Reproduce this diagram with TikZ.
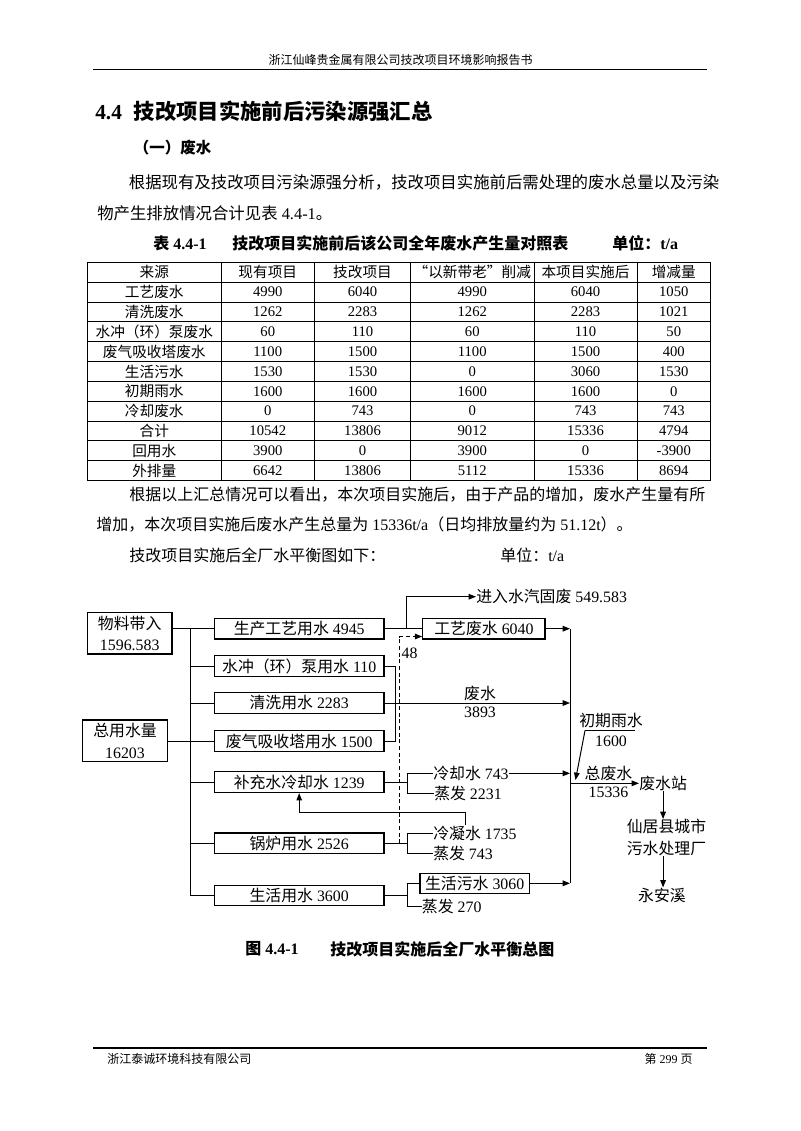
\documentclass[tikz,border=0pt]{standalone}
\usepackage{fontspec}
\setmainfont{Liberation Serif}
\newfontfamily\cjk{Noto Sans CJK SC}
\usetikzlibrary{arrows.meta}
\XeTeXinterchartokenstate=1
\newXeTeXintercharclass\CJKcls
\newcount\cjkc
\def\setcjkrange#1#2{\cjkc=#1\relax\loop\XeTeXcharclass\cjkc=\CJKcls\relax\ifnum\cjkc<#2\relax\advance\cjkc by 1\relax\repeat}
\setcjkrange{"4E00}{"9FFF}
\setcjkrange{"3000}{"303F}
\setcjkrange{"FF00}{"FFEF}
\XeTeXcharclass"201C=\CJKcls
\XeTeXcharclass"201D=\CJKcls
\XeTeXinterchartoks 0 \CJKcls = {\cjk}
\XeTeXinterchartoks 4095 \CJKcls = {\cjk}
\XeTeXinterchartoks \CJKcls 0 = {\rmfamily}
\XeTeXinterchartoks \CJKcls 4095 = {\rmfamily}
\tikzset{
  dfont/.style={font=\fontsize{11.9}{15.8}\selectfont},
  bx/.style={draw, line width=0.9pt, inner sep=0pt, minimum height=15.5pt, dfont},
  lbl/.style={inner sep=0pt, dfont},
  ln/.style={line width=0.75pt},
  arr/.style={ln, -{Triangle[length=5.5pt,width=4.2pt]}},
  body/.style={inner sep=0pt, anchor=west, font=\fontsize{12.3}{15}\selectfont},
  cell/.style={inner sep=0pt, font=\fontsize{11}{13}\selectfont},
  small/.style={inner sep=0pt, font=\fontsize{9}{11}\selectfont},
  boldcap/.style={inner sep=0pt, anchor=west, font=\fontsize{12}{14}\selectfont\bfseries},
}
\begin{document}
\begin{tikzpicture}[x=0.75pt,y=-0.75pt]
\useasboundingbox (0,0) rectangle (800,1131);
\fill[white] (0,0) rectangle (800,1131);

% header and footer
\node[small] (hdr) at (400.5,60) {浙江仙峰贵金属有限公司技改项目环境影响报告书};
\draw[line width=0.9pt] (93,69.5) -- (707,69.5);
\draw[line width=0.9pt] (93,1048) -- (707,1048);
\node[small, anchor=west] (ftl) at (107,1058.5) {浙江泰诚环境科技有限公司};
\node[small, anchor=east] (ftr) at (693,1058.5) {第 299 页};

% title and paragraphs
\node[inner sep=0pt, anchor=west, font=\fontsize{16}{18}\selectfont\bfseries] (ttl) at (95,111) {4.4\hspace{0.55em}技改项目实施前后污染源强汇总};
\node[inner sep=0pt, anchor=west, font=\fontsize{11.6}{14}\selectfont\bfseries] (sub) at (133.7,148) {（一）废水};
\node[body] (p1) at (128.6,182.5) {根据现有及技改项目污染源强分析，技改项目实施前后需处理的废水总量以及污染};
\node[body] (p2) at (97,213) {物产生排放情况合计见表 4.4-1。};
\node[boldcap] (tc1) at (153,243) {表 4.4-1};
\node[boldcap] (tc2) at (232,243) {技改项目实施前后该公司全年废水产生量对照表};
\node[boldcap] (tc3) at (612,243) {单位：t/a};

% table
\foreach \k in {0,...,11} {
  \draw[line width=0.7pt] (87.5,{262.3+\k*19.85}) -- (710.5,{262.3+\k*19.85});
}
\foreach \xx in {87.5,221,314.5,410.5,534,637,710.5} {
  \draw[line width=0.7pt] (\xx,262.3) -- (\xx,480.65);
}
\foreach \r/\a/\b/\c/\d/\e/\f in {
  0/来源/现有项目/技改项目/“以新带老”削减/本项目实施后/增减量,
  1/工艺废水/4990/6040/4990/6040/1050,
  2/清洗废水/1262/2283/1262/2283/1021,
  3/水冲（环）泵废水/60/110/60/110/50,
  4/废气吸收塔废水/1100/1500/1100/1500/400,
  5/生活污水/1530/1530/0/3060/1530,
  6/初期雨水/1600/1600/1600/1600/0,
  7/冷却废水/0/743/0/743/743,
  8/合计/10542/13806/9012/15336/4794,
  9/回用水/3900/0/3900/0/-3900,
  10/外排量/6642/13806/5112/15336/8694} {
  \pgfmathsetmacro\yy{262.3+(\r+0.5)*19.85}
  \node[cell] (t\r a) at (154.25,\yy) {\a};
  \node[cell] (t\r b) at (267.75,\yy) {\b};
  \node[cell] (t\r c) at (362.5,\yy) {\c};
  \node[cell] (t\r d) at (472.25,\yy) {\d};
  \node[cell] (t\r e) at (585.5,\yy) {\e};
  \node[cell] (t\r f) at (673.75,\yy) {\f};
}

\node[body, font=\fontsize{12}{15}\selectfont] (p3) at (129,495) {根据以上汇总情况可以看出，本次项目实施后，由于产品的增加，废水产生量有所};
\node[body, font=\fontsize{12}{15}\selectfont] (p4) at (96,524.5) {增加，本次项目实施后废水产生总量为 15336t/a（日均排放量约为 51.12t）。};
\node[body, font=\fontsize{12}{15}\selectfont] (p5) at (129,555) {技改项目实施后全厂水平衡图如下：};
\node[body, font=\fontsize{12}{15}\selectfont] (p6) at (500,555) {单位：t/a};

% ---------- diagram ----------
\node[bx, minimum width=127.3pt] (s1) at (299.2,628.7) {生产工艺用水 4945};
\node[bx, minimum width=127.3pt] (s2) at (299.2,666) {水冲（环）泵用水 110};
\node[bx, minimum width=127.3pt] (s3) at (299.2,703) {清洗用水 2283};
\node[bx, minimum width=127.3pt] (s4) at (299.2,741.2) {废气吸收塔用水 1500};
\node[bx, minimum width=127.3pt] (s5) at (299.2,782.2) {补充水冷却水 1239};
\node[bx, minimum width=127.3pt] (s6) at (299.2,843.3) {锅炉用水 2526};
\node[bx, minimum width=127.3pt] (s7) at (299.2,895.5) {生活用水 3600};

\node[bx, minimum width=63.5pt, minimum height=31.3pt, align=center] (wl) at (129.7,633.2) {物料带入\\1596.583};
\node[bx, minimum width=63.5pt, minimum height=31.3pt, align=center] (zy) at (125,740.9) {总用水量\\16203};

\coordinate (bus) at (190,700);
\draw[ln] (bus |- s1.west) -- (bus |- s7.west);
\foreach \s in {s1,s2,s3,s4,s5,s6,s7} { \draw[ln] (bus |- \s.west) -- (\s.west); }
\draw[ln] (wl.east |- s1.west) -- (bus |- s1.west);
\draw[ln] (zy.east |- s4.west) -- (bus |- s4.west);

% process wastewater
\node[bx, minimum width=91.7pt] (gy) at (483.9,628.7) {工艺废水 6040};
\draw[ln] (s1.east) -- (gy.west);
\coordinate (br1) at (406,628.7);
\node[lbl, anchor=west] (jr) at (476,596.7) {进入水汽固废 549.583};
\draw[arr] (br1) |- (jr.west);

% collector
\node[bx, minimum width=82pt, minimum height=15pt] (sw) at (474.7,883.3) {生活污水 3060};
\coordinate (col) at (570,700);
\draw[ln] (col |- gy.east) -- (col |- sw.east);
\draw[arr] (gy.east) -- (col |- gy.east);
\draw[arr] (s3.east) -- (col |- s3.east);
\node[lbl] (fs) at (480,693.3) {废水};
\node[lbl] (fsn) at (480,712.3) {3893};

% bracket for pump and absorber water
\coordinate (bk) at (395,700);
\draw[ln] (s2.east) -| (bk |- s4.east) -- (s4.east);

% dashed 48
\coordinate (dbot) at (399.3,843.3);
\coordinate (dtop) at (399.3,636.5);
\draw[ln, dash pattern=on 3pt off 2pt, -{Triangle[length=5.5pt,width=4.2pt]}] (dbot) -- (dtop) -- (gy.west |- dtop);
\node[lbl] (n48) at (409.5,653.3) {48};

% cooling water
\coordinate (brk) at (407.7,800);
\node[lbl, anchor=west] (lq) at (433,773.3) {冷却水 743};
\node[lbl, anchor=west] (zf1) at (434,793.3) {蒸发 2231};
\draw[ln] (s5.east) -- (brk |- s5.east);
\draw[ln] (lq.west) -| (brk |- zf1.west) -- (zf1.west);
\draw[arr] (lq.east) -- (col |- lq.east);

% boiler
\node[lbl, anchor=west] (lnw) at (433,833) {冷凝水 1735};
\node[lbl, anchor=west] (zf2) at (433,853.5) {蒸发 743};
\draw[ln] (s6.east) -- (brk |- s6.east);
\draw[ln] (lnw.west) -| (brk |- zf2.west) -- (zf2.west);
\coordinate (rt) at (465,812.3);
\draw[arr] (rt |- lnw.north) -- (rt) -| (s5.south);

% domestic
\node[lbl, anchor=west] (zf3) at (421.7,906.7) {蒸发 270};
\draw[ln] (s7.east) -- (brk |- s7.east);
\draw[ln] (sw.west) -| (brk |- zf3.west) -- (zf3.west);
\draw[arr] (sw.east) -- (col |- sw.east);

% rain water
\node[lbl] (cq) at (611,720) {初期雨水};
\node[lbl] (cqn) at (611,741.7) {1600};
\coordinate (cqa) at (585,730.5);
\coordinate (cqb) at (635,730.5);
\coordinate (cqt) at (575.5,780);
\draw[ln] (cqa) -- (cqb);
\draw[arr] (cqa) -- (cqt);

% total
\node[lbl, anchor=west] (fsz) at (639,783.3) {废水站};
\draw[arr] (col |- fsz.west) -- (fsz.west);
\node[lbl] (zfs) at (608.5,773) {总废水};
\node[lbl] (zfsn) at (608.5,792.7) {15336};
\node[lbl, align=center, font=\fontsize{11.9}{16.2}\selectfont] (xj) at (666.5,837.5) {仙居县城市\\污水处理厂};
\node[lbl] (yax) at (662,895) {永安溪};
\draw[arr] (fsz.south) -- (fsz.south |- xj.north);
\draw[arr] (fsz.south |- xj.south) -- (fsz.south |- yax.north);

% caption
\node[boldcap] (cap1) at (245,949) {图 4.4-1};
\node[boldcap] (cap2) at (330,949) {技改项目实施后全厂水平衡总图};
\end{tikzpicture}
\end{document}
